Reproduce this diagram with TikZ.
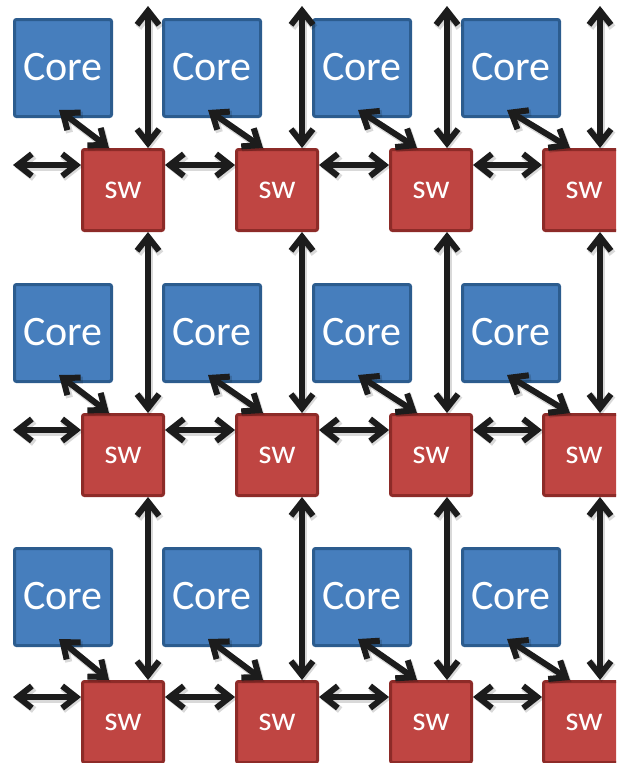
\documentclass[tikz,border=0pt]{standalone}
\usepackage{fontspec}
\setmainfont{Carlito}
\usetikzlibrary{arrows.meta,calc}
\definecolor{corefill}{HTML}{467EBD}
\definecolor{coredraw}{HTML}{2C5C8E}
\definecolor{swfill}{HTML}{BF4542}
\definecolor{swdraw}{HTML}{8D2B28}
\definecolor{arrcol}{HTML}{1C1C1C}
\tikzset{
  corebox/.style={rectangle, rounded corners=2pt, fill=corefill, draw=coredraw, line width=3pt,
    minimum size=97pt, inner sep=0pt, text=white, font=\fontsize{42}{42}\selectfont},
  swbox/.style={rectangle, rounded corners=2pt, fill=swfill, draw=swdraw, line width=3pt,
    minimum size=81pt, inner sep=0pt, text=white, font=\fontsize{34}{34}\selectfont},
  link/.style={draw=arrcol, line width=6pt, line cap=round, line join=round,
    {Straight Barb[length=14pt,width=22pt]}-{Straight Barb[length=14pt,width=22pt]},
    preaction={draw=black, opacity=0.15, line width=7pt,
      transform canvas={shift={(1.5pt,-2pt)}}}}
}
\begin{document}
\begin{tikzpicture}[x=1pt,y=-1pt]
\useasboundingbox (0,0) rectangle (616,763);
\clip (0,0) rectangle (616,763);
% cores and switches
\foreach \c/\cx/\sx/\vx in {1/63/123/148, 2/212/277/302, 3/362/431/447, 4/511/584/600}{
  \foreach \r/\cy/\sy in {1/68/190, 2/333/455, 3/597/722}{
    \node[corebox] (c\r\c) at (\cx,\cy) {\raisebox{3pt}{Core}};
    \node[swbox] (s\r\c) at (\sx,\sy) {sw};
  }
  \coordinate (t\c) at (\vx,6);
}
\foreach \r/\sy in {1/190, 2/455, 3/722}{
  \coordinate (l\r) at (13,\sy-25);
}
% vertical links
\foreach \c in {1,2,3,4}{
  \draw[link] (t\c) -- (t\c |- s1\c.north);
  \draw[link] (t\c |- s1\c.south) -- (t\c |- s2\c.north);
  \draw[link] (t\c |- s2\c.south) -- (t\c |- s3\c.north);
}
% horizontal links
\foreach \r in {1,2,3}{
  \draw[link] (l\r) -- (l\r -| s\r1.west);
  \foreach \c/\d in {1/2, 2/3, 3/4}{
    \draw[link] (l\r -| s\r\c.east) -- (l\r -| s\r\d.west);
  }
}
% core to switch links
\foreach \r in {1,2,3}{
  \foreach \c in {1,2,3,4}{
    \draw[link] ($(c\r\c.south west)+(46,-8)$) -- ($(s\r\c.north west)+(28,0)$);
  }
}
\end{tikzpicture}
\end{document}
